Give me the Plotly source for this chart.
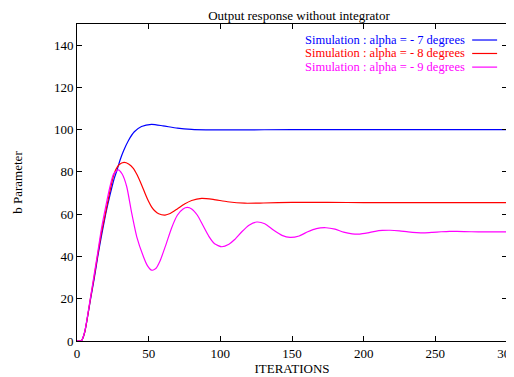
import plotly.graph_objects as go

# ---- data ----
x_a7 = [0, 1.5, 3, 4, 5.5, 7, 9.5, 12, 14.5, 17, 20, 23, 26, 28, 30, 32.5, 36, 40, 45, 52, 60, 70, 80, 90, 110, 150, 200, 300]
y_a7 = [0, 0, 0, 1.2, 4.5, 10, 20, 29.5, 40, 49.5, 60, 69, 77, 81, 85.5, 90, 95, 99, 101.5, 102.5, 101.8, 100.7, 100.1, 99.9, 99.9, 100, 100, 100]

x_a8 = [0, 1.5, 3, 4, 5.5, 7, 9.5, 12, 14.5, 17, 20, 23, 25, 27, 29.5, 32.8, 36, 39.3, 42, 45.1, 47.5, 49.8, 52, 54.4, 57, 61.4, 65, 70, 75, 80, 87, 95, 105, 117, 130, 150, 175, 200, 300]
y_a8 = [0, 0, 0, 1.2, 4.5, 10, 20.5, 30.5, 41, 51, 61, 71, 77, 81, 83.5, 84.5, 83.8, 81.7, 78.5, 73.8, 69.8, 66.2, 63.5, 61.5, 60.2, 59.6, 60.3, 62.5, 64.8, 66.5, 67.5, 67, 65.9, 65.2, 65.3, 65.6, 65.6, 65.5, 65.5]

x_a9 = [0, 1.5, 3, 4, 5.5, 7, 9.5, 12, 14.5, 17, 20, 23, 25.5, 28.8, 31.5, 34.7, 38.2, 41.7, 46.3, 49, 52.1, 55, 58, 62, 66, 70, 74, 77, 80, 84, 88, 92, 96, 101, 106, 110, 115, 120, 125.4, 131, 137, 143, 148.6, 155, 161, 167, 173.7, 180, 186, 192, 197.4, 203, 208, 213, 218.4, 225, 231, 237, 242.8, 248, 254, 260, 265, 275, 285, 300]
y_a9 = [0, 0, 0, 1.3, 4.8, 10.5, 21, 31.5, 42, 53, 63.5, 73, 79, 81, 79, 73, 60.4, 49.3, 40, 35.8, 33.5, 34.3, 38, 45.5, 53.5, 59.5, 62.5, 63.2, 62.5, 59.5, 54.5, 49.5, 46, 44.6, 45.8, 48, 51.7, 54.8, 56.3, 55.5, 52.5, 50, 49, 49.7, 51.7, 53.2, 53.6, 52.9, 51.5, 50.7, 50.6, 51.2, 51.9, 52.3, 52.4, 52.1, 51.6, 51.3, 51.2, 51.4, 51.7, 51.9, 51.9, 51.7, 51.6, 51.6]

series_names = ["Simulation : alpha = - 7 degrees",
                "Simulation : alpha = - 8 degrees",
                "Simulation : alpha = - 9 degrees"]
series_colors = ["#0000ff", "#ff0000", "#ff00ff"]

x_ticks = [0, 50, 100, 150, 200, 250, 300]
y_ticks = [0, 20, 40, 60, 80, 100, 120, 140]

FONT = "Liberation Serif, Times New Roman, serif"
FS = 13

fig = go.Figure()
for xs, ys, name, col in zip([x_a7, x_a8, x_a9], [y_a7, y_a8, y_a9], series_names, series_colors):
    fig.add_trace(go.Scatter(x=xs, y=ys, mode="lines", name=name,
                             line=dict(color=col, width=1.2, shape="spline", smoothing=0.6),
                             showlegend=False))

# legend mimic (text right-aligned, line sample on right)
leg_y = [0.9495, 0.907, 0.864]
for name, col, ly in zip(series_names, series_colors, leg_y):
    fig.add_annotation(x=0.905, y=ly, xref="paper", yref="paper", text=name,
                       showarrow=False, xanchor="right", yanchor="middle", borderpad=0,
                       font=dict(family=FONT, size=12.5, color=col))
    fig.add_shape(type="line", xref="paper", yref="paper", x0=0.919, x1=0.977, y0=ly, y1=ly,
                  line=dict(color=col, width=1.2))

axis_common = dict(showline=True, linecolor="black", linewidth=1, mirror="ticks",
                   ticks="inside", ticklen=5, tickcolor="black", showgrid=False, zeroline=False,
                   automargin=False, ticklabeloverflow="allow",
                   tickfont=dict(family=FONT, size=FS, color="black"))

# the page body has an 8px margin, so the figure starts at (8, 8) in the window
fig.update_layout(
    width=506, height=369,
    margin=dict(l=69, r=7, t=16, b=36),
    paper_bgcolor="white", plot_bgcolor="white",
    title=dict(text="Output response without integrator", x=0.575, xanchor="center",
               yref="container", y=1 - 7 / 369, yanchor="middle", automargin=False,
               font=dict(family=FONT, size=FS, color="black")),
    xaxis=dict(range=[0, 300], tickvals=x_ticks,
               title=dict(text="ITERATIONS", standoff=0, font=dict(family=FONT, size=FS, color="black")),
               **axis_common),
    yaxis=dict(range=[0, 150], tickvals=y_ticks,
               title=dict(text="b Parameter", standoff=28, font=dict(family=FONT, size=FS, color="black")),
               **axis_common),
)

fig.write_html("out.html")
